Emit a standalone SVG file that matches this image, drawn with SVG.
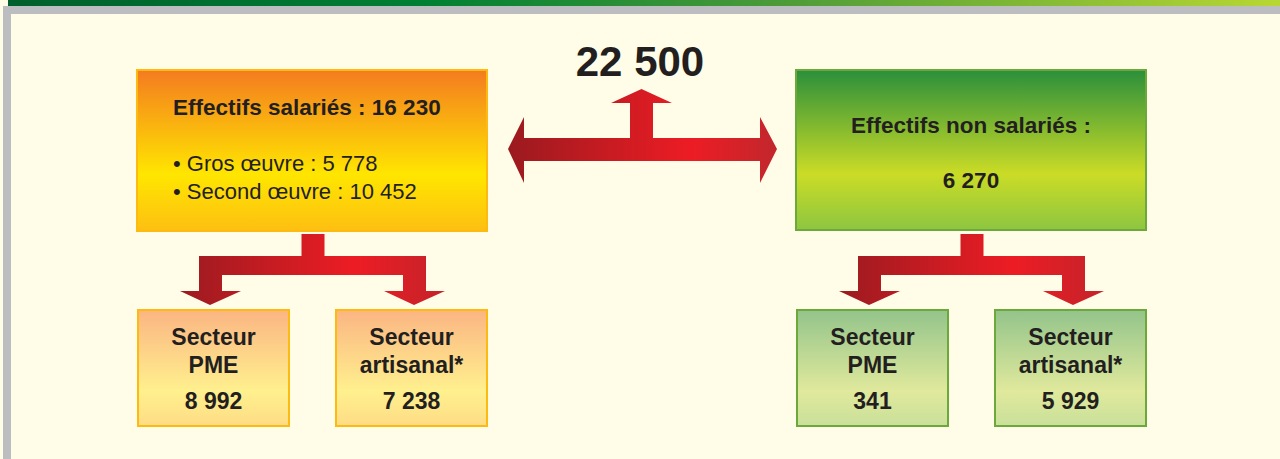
<svg xmlns="http://www.w3.org/2000/svg" width="1280" height="459" viewBox="0 0 1280 459">
<style>
.t{font-family:"Liberation Sans",Arial,sans-serif;fill:#231f20}
.b{font-weight:bold}
.c{text-anchor:middle}
.s{font-size:23px}
.ob{stroke:#fdbb12;stroke-width:2}
.gb{stroke:#6ca83a;stroke-width:2}
</style>
<defs>
<linearGradient id="bar" x1="0" y1="0" x2="1" y2="0">
<stop offset="0" stop-color="#005f2c"/><stop offset="0.33" stop-color="#008033"/><stop offset="0.6" stop-color="#4a9a38"/><stop offset="1" stop-color="#b8d733"/>
</linearGradient>
<linearGradient id="og" x1="0" y1="0" x2="0" y2="1">
<stop offset="0" stop-color="#f47b20"/><stop offset="0.65" stop-color="#ffe600"/><stop offset="1" stop-color="#fdbf12"/>
</linearGradient>
<linearGradient id="gg" x1="0" y1="0" x2="0" y2="1">
<stop offset="0" stop-color="#2b8f3b"/><stop offset="0.65" stop-color="#cbdc26"/><stop offset="1" stop-color="#8dc641"/>
</linearGradient>
<linearGradient id="os" x1="0" y1="0" x2="0" y2="1">
<stop offset="0" stop-color="#fbb583"/><stop offset="0.7" stop-color="#fff08e"/><stop offset="1" stop-color="#fedc85"/>
</linearGradient>
<linearGradient id="gs" x1="0" y1="0" x2="0" y2="1">
<stop offset="0" stop-color="#93c48b"/><stop offset="0.7" stop-color="#e0e99c"/><stop offset="1" stop-color="#c9e09a"/>
</linearGradient>
<linearGradient id="ra" gradientUnits="userSpaceOnUse" x1="508" y1="0" x2="777" y2="0">
<stop offset="0" stop-color="#9a1a1f"/><stop offset="0.68" stop-color="#ed1c24"/><stop offset="1" stop-color="#c1272d"/>
</linearGradient>
<linearGradient id="rl" gradientUnits="userSpaceOnUse" x1="180" y1="0" x2="445" y2="0">
<stop offset="0" stop-color="#9b1b20"/><stop offset="0.66" stop-color="#ed1c24"/><stop offset="1" stop-color="#c4232a"/>
</linearGradient>
<linearGradient id="rr" gradientUnits="userSpaceOnUse" x1="839" y1="0" x2="1104" y2="0">
<stop offset="0" stop-color="#9b1b20"/><stop offset="0.66" stop-color="#ed1c24"/><stop offset="1" stop-color="#c4232a"/>
</linearGradient>
</defs>
<rect x="0" y="0" width="1280" height="459" fill="#fffde8"/>
<rect x="8" y="0" width="1272" height="6" fill="url(#bar)"/>
<rect x="3" y="6" width="1277" height="8" fill="#bcbdc1"/>
<rect x="3" y="6" width="8" height="453" fill="#bcbdc1"/>

<text class="t b c" x="640" y="76" font-size="42">22 500</text>

<g id="connectors">
<path d="M508,149 L524,117 L524,138 L630,138 L630,103 L611,103 L641.5,89 L672,103 L653,103 L653,138 L760,138 L760,117 L777,149 L760,183 L760,161 L524,161 L524,183 Z" fill="url(#ra)"/>
<path d="M301.5,234 L324.5,234 L324.5,256 L426,256 L426,291 L445,291 L414,305 L384,291 L403,291 L403,275 L222,275 L222,291 L241,291 L210,305 L180,291 L199,291 L199,256 L301.5,256 Z" fill="url(#rl)"/>
<path d="M960.5,234 L983.5,234 L983.5,256 L1085,256 L1085,291 L1104,291 L1073,305 L1043,291 L1062,291 L1062,275 L881,275 L881,291 L900,291 L869,305 L839,291 L858,291 L858,256 L960.5,256 Z" fill="url(#rr)"/>
</g>

<g id="salaries">
<rect class="ob" x="137" y="70" width="350" height="161" fill="url(#og)"/>
<text class="t b" x="173" y="115" font-size="22.5">Effectifs salariés : 16 230</text>
<text class="t" x="173" y="171" font-size="22">• Gros œuvre : 5 778</text>
<text class="t" x="173" y="199" font-size="22">• Second œuvre : 10 452</text>
</g>

<g id="non-salaries">
<rect class="gb" x="796" y="70" width="350" height="160" fill="url(#gg)"/>
<text class="t b c" x="971" y="133" font-size="22.5">Effectifs non salariés :</text>
<text class="t b c" x="971" y="188" font-size="22.5">6 270</text>
</g>

<g id="sal-pme">
<rect class="ob" x="138" y="310" width="151" height="116" fill="url(#os)"/>
<text class="t b c s" x="213.5" y="345">Secteur</text>
<text class="t b c s" x="213.5" y="373">PME</text>
<text class="t b c s" x="213.5" y="409">8 992</text>
</g>

<g id="sal-artisanal">
<rect class="ob" x="336" y="310" width="151" height="116" fill="url(#os)"/>
<text class="t b c s" x="411.5" y="345">Secteur</text>
<text class="t b c s" x="411.5" y="373">artisanal*</text>
<text class="t b c s" x="411.5" y="409">7 238</text>
</g>

<g id="nonsal-pme">
<rect class="gb" x="797" y="310" width="151" height="116" fill="url(#gs)"/>
<text class="t b c s" x="872.5" y="345">Secteur</text>
<text class="t b c s" x="872.5" y="373">PME</text>
<text class="t b c s" x="872.5" y="409">341</text>
</g>

<g id="nonsal-artisanal">
<rect class="gb" x="995" y="310" width="151" height="116" fill="url(#gs)"/>
<text class="t b c s" x="1070.5" y="345">Secteur</text>
<text class="t b c s" x="1070.5" y="373">artisanal*</text>
<text class="t b c s" x="1070.5" y="409">5 929</text>
</g>
</svg>
